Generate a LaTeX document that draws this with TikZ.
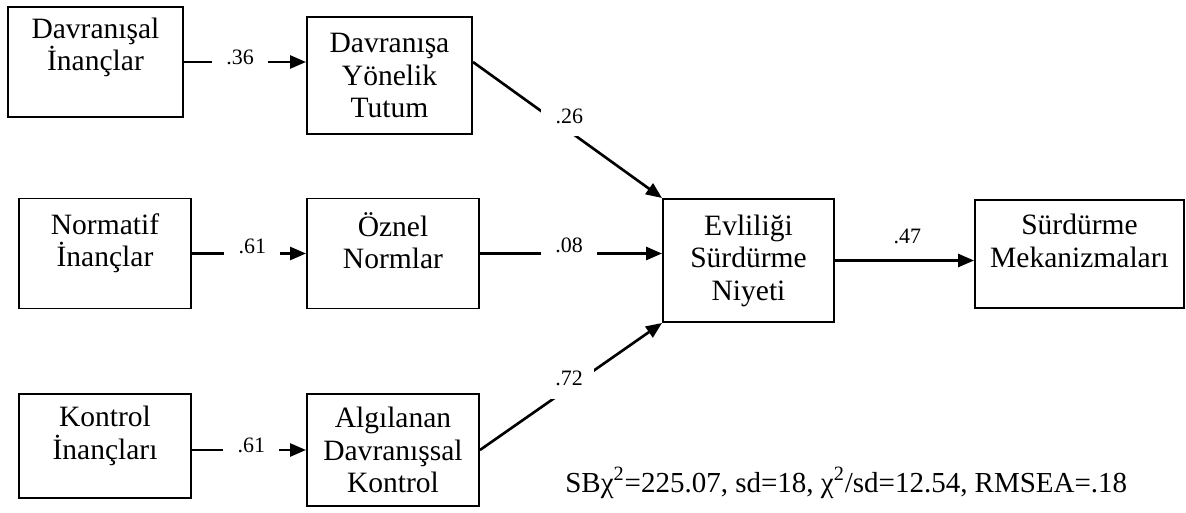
\documentclass[tikz,border=0pt]{standalone}
\usepackage{fontspec}
\setmainfont{Liberation Serif}
\usetikzlibrary{arrows.meta}

\begin{document}
\begin{tikzpicture}[
    box/.style={draw, line width=1.1pt, align=center, inner sep=0pt, minimum width=3.44cm, minimum height=2.2cm, font=\fontsize{16.8}{18.5}\selectfont},
    raised/.style={text depth=15pt},
    arr/.style={line width=1.5pt, -{Triangle[length=0.32cm, width=0.26cm]}},
    coef/.style={fill=white, inner sep=0pt, minimum width=1.12cm, minimum height=0.8cm, font=\fontsize{12.5}{14}\selectfont}
  ]
          \useasboundingbox (0, 0) rectangle (23.72, 10.24);
          \node (DI) [box, minimum width=3.5cm, text depth=20pt] at (1.91, 9.00) {Davranışal\\İnançlar};
          \node (DYT) [box, minimum width=3.3cm, minimum height=2.34cm] at (7.79, 8.73) {Davranışa\\Yönelik\\Tutum};
          \node (NI) [box, raised] at (2.10, 5.17) {Normatif\\İnançlar};
          \node (ON) [box, raised] at (7.86, 5.17) {Öznel\\Normlar};
          \node (KI) [box, raised, minimum height=2.08cm] at (2.10, 1.32) {Kontrol\\İnançları};
          \node (ADK) [box, minimum height=2.24cm] at (7.86, 1.24) {Algılanan\\Davranışsal\\Kontrol};
          \node (ESN) [box, minimum width=3.42cm, minimum height=2.46cm] at (14.97, 5.03) {Evliliği\\Sürdürme\\Niyeti};
          \node (SM) [box, raised, minimum width=4.18cm, minimum height=2.16cm] at (21.59, 5.16) {Sürdürme\\Mekanizmaları};
          \draw [arr] (DI) -- node [coef, pos=0.46, yshift=0.1cm] {.36} (DI -| DYT.west);
          \draw [arr] (NI) -- node [coef, pos=0.53, yshift=0.15cm] {.61} (ON);
          \draw [arr] (KI.east |- ADK) -- node [coef, pos=0.52, yshift=0.1cm] {.61} (ADK);
          \draw [arr] (DYT.east |- DI) -- node [coef, pos=0.51, yshift=0.3cm] {.26} (ESN.north west);
          \draw [arr] (ON) -- node [coef, pos=0.49, yshift=0.17cm] {.08} (ON -| ESN.west);
          \draw [arr] (ADK.east) -- node [coef, pos=0.49, yshift=0.18cm, minimum width=1cm] {.72} (ESN.south west);
          \draw [arr] (ESN) -- node [coef, pos=0.52, yshift=0.48cm] {.47} (ESN -| SM.west);
          \node (FIT) [anchor=base west, inner sep=0pt, font=\fontsize{16.5}{18}\selectfont] at (11.30, 0.40) {SBχ\textsuperscript{2}=225.07, sd=18, χ\textsuperscript{2}/sd=12.54, RMSEA=.18};
  \end{tikzpicture}
\end{document}
